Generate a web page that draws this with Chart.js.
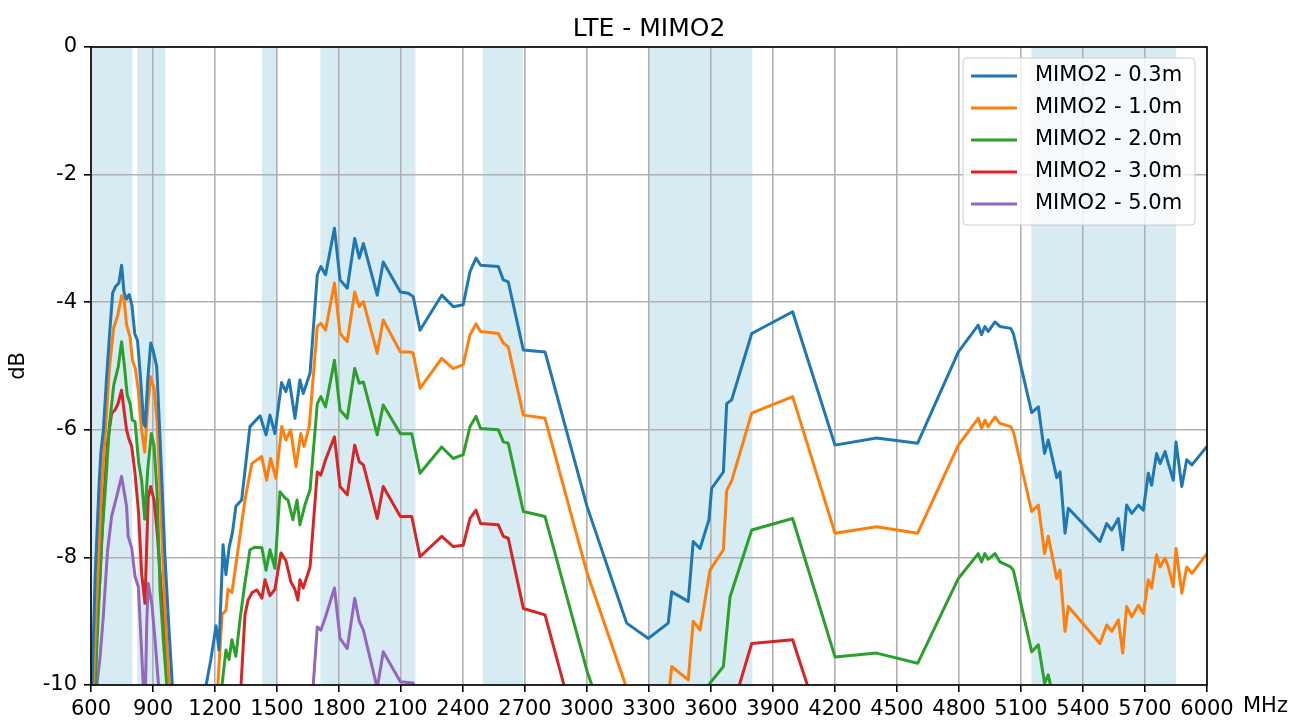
<!DOCTYPE html>
<html>
<head>
<meta charset="utf-8">
<title>LTE - MIMO2</title>
<script src="https://cdn.jsdelivr.net/npm/chart.js@4.4.1/dist/chart.umd.min.js"></script>
<style>
  html, body { margin: 0; padding: 0; background: #ffffff; }
  canvas { display: block; }
</style>
</head>
<body>
<canvas id="grafico" width="1305" height="722"></canvas>
<script>
// faixas LTE (MHz) pintadas atrás das curvas
const BANDS = [[600, 800], [824, 960], [1427, 1500], [1710, 2170], [2496, 2690], [3300, 3800], [5150, 5850]];

const FREQ_TICKS = [600, 900, 1200, 1500, 1800, 2100, 2400, 2700, 3000, 3300, 3600, 3900, 4200, 4500, 4800, 5100, 5400, 5700, 6000];
const DB_TICKS = [-10, -8, -6, -4, -2, 0];

const LABELS = ['MIMO2 - 0.3m', 'MIMO2 - 1.0m', 'MIMO2 - 2.0m', 'MIMO2 - 3.0m', 'MIMO2 - 5.0m'];
const COLORS = ['#1f77b4', '#ff7f0e', '#2ca02c', '#d62728', '#9467bd'];

// [MHz, dB] por distância
const MIMO2_03 = [[600,-10.6],[620,-8.3],[640,-6.8],[648,-6.35],[660,-6.0],[675,-5.2],[690,-4.5],[705,-3.85],[720,-3.75],[735,-3.7],[748,-3.42],[760,-3.85],[772,-3.95],[785,-3.88],[798,-4.05],[812,-4.5],[825,-4.6],[840,-5.2],[855,-5.9],[862,-5.95],[875,-5.2],[889,-4.64],[900,-4.75],[918,-5.01],[935,-6.2],[958,-7.99],[975,-9.0],[993,-9.97],[1010,-10.8],[1140,-10.8],[1157,-10.0],[1180,-9.6],[1205,-9.07],[1219,-9.45],[1239,-7.8],[1253,-8.27],[1268,-7.85],[1285,-7.6],[1301,-7.2],[1329,-7.1],[1369,-5.95],[1418,-5.78],[1447,-6.08],[1466,-5.77],[1490,-6.06],[1522,-5.26],[1543,-5.4],[1559,-5.22],[1587,-5.82],[1611,-5.22],[1627,-5.43],[1660,-5.11],[1695,-3.57],[1712,-3.44],[1735,-3.57],[1778,-2.84],[1805,-3.65],[1840,-3.78],[1876,-3.0],[1898,-3.31],[1918,-3.08],[1985,-3.89],[2014,-3.37],[2097,-3.84],[2135,-3.86],[2159,-3.91],[2192,-4.44],[2297,-3.89],[2353,-4.07],[2401,-4.04],[2434,-3.52],[2463,-3.31],[2485,-3.42],[2571,-3.44],[2595,-3.65],[2619,-3.68],[2692,-4.75],[2797,-4.78],[3000,-7.2],[3192,-9.03],[3297,-9.27],[3393,-9.03],[3410,-8.54],[3490,-8.69],[3514,-7.75],[3547,-7.86],[3590,-7.41],[3603,-6.92],[3660,-6.66],[3676,-5.59],[3700,-5.53],[3797,-4.49],[3995,-4.15],[4200,-6.24],[4401,-6.13],[4600,-6.21],[4797,-4.78],[4893,-4.36],[4909,-4.51],[4925,-4.38],[4941,-4.46],[4974,-4.31],[4998,-4.38],[5050,-4.41],[5063,-4.49],[5152,-5.73],[5184,-5.64],[5214,-6.37],[5232,-6.16],[5273,-6.75],[5289,-6.66],[5313,-7.62],[5329,-7.23],[5482,-7.75],[5515,-7.47],[5539,-7.57],[5571,-7.39],[5592,-7.88],[5611,-7.18],[5636,-7.31],[5668,-7.18],[5692,-7.26],[5716,-6.68],[5732,-6.87],[5756,-6.37],[5773,-6.53],[5797,-6.34],[5813,-6.53],[5837,-6.79],[5850,-6.19],[5878,-6.89],[5902,-6.47],[5927,-6.55],[6000,-6.26]];

const MIMO2_10 = [[600,-11.0],[625,-8.8],[650,-7.0],[670,-6.0],[690,-5.0],[710,-4.4],[730,-4.2],[748,-3.9],[760,-3.95],[772,-4.35],[789,-4.55],[800,-4.9],[815,-5.05],[830,-5.4],[845,-6.0],[860,-6.35],[875,-5.6],[889,-5.17],[905,-5.35],[920,-5.9],[935,-7.0],[955,-8.6],[975,-9.8],[1000,-10.8],[1190,-10.8],[1214,-10.0],[1234,-8.9],[1253,-8.83],[1263,-8.5],[1282,-8.55],[1301,-8.12],[1345,-7.1],[1378,-6.53],[1426,-6.42],[1450,-6.79],[1469,-6.45],[1495,-6.76],[1523,-5.95],[1543,-6.16],[1566,-6.0],[1592,-6.58],[1615,-6.06],[1631,-6.26],[1656,-5.95],[1695,-4.38],[1712,-4.33],[1735,-4.44],[1778,-3.70],[1805,-4.49],[1840,-4.62],[1876,-3.84],[1898,-4.07],[1918,-3.99],[1985,-4.8],[2014,-4.28],[2097,-4.78],[2143,-4.78],[2159,-4.8],[2192,-5.35],[2297,-4.88],[2353,-5.04],[2401,-4.98],[2434,-4.51],[2463,-4.34],[2485,-4.46],[2571,-4.49],[2595,-4.64],[2619,-4.70],[2692,-5.77],[2797,-5.82],[3000,-8.24],[3192,-10.05],[3297,-10.5],[3393,-10.2],[3410,-9.71],[3490,-9.92],[3514,-9.0],[3547,-9.14],[3595,-8.2],[3660,-7.88],[3676,-6.95],[3700,-6.8],[3797,-5.74],[3995,-5.48],[4200,-7.62],[4401,-7.52],[4600,-7.62],[4797,-6.24],[4893,-5.82],[4909,-5.98],[4925,-5.85],[4941,-5.95],[4974,-5.80],[4998,-5.9],[5050,-5.95],[5063,-6.03],[5152,-7.28],[5184,-7.18],[5214,-7.94],[5232,-7.67],[5273,-8.33],[5289,-8.2],[5313,-9.16],[5329,-8.77],[5482,-9.35],[5515,-9.06],[5539,-9.16],[5571,-8.98],[5592,-9.5],[5611,-8.77],[5636,-8.93],[5668,-8.75],[5692,-8.88],[5716,-8.35],[5732,-8.48],[5756,-7.96],[5773,-8.15],[5797,-8.01],[5813,-8.15],[5837,-8.46],[5850,-7.86],[5878,-8.56],[5902,-8.15],[5927,-8.25],[6000,-7.94]];

const MIMO2_20 = [[600,-11.5],[630,-9.3],[650,-7.8],[670,-6.9],[690,-5.9],[710,-5.3],[732,-5.01],[748,-4.62],[760,-4.95],[775,-5.45],[790,-5.6],[800,-5.85],[813,-5.87],[830,-6.5],[845,-6.79],[860,-7.4],[875,-6.6],[892,-6.06],[905,-6.25],[920,-7.0],[934,-8.51],[950,-9.3],[966,-9.97],[990,-11],[1210,-11],[1234,-10.0],[1253,-9.45],[1268,-9.6],[1282,-9.29],[1301,-9.55],[1321,-8.98],[1340,-8.51],[1369,-7.88],[1394,-7.84],[1427,-7.85],[1447,-8.2],[1466,-7.88],[1490,-8.17],[1514,-6.97],[1539,-7.07],[1553,-7.1],[1577,-7.41],[1597,-7.1],[1611,-7.49],[1635,-7.18],[1660,-6.94],[1695,-5.59],[1712,-5.48],[1735,-5.64],[1778,-4.91],[1805,-5.69],[1840,-5.82],[1876,-5.04],[1898,-5.27],[1918,-5.25],[1985,-6.08],[2014,-5.61],[2097,-6.06],[2152,-6.06],[2192,-6.68],[2297,-6.27],[2353,-6.45],[2401,-6.39],[2434,-5.95],[2463,-5.79],[2485,-5.98],[2571,-6.0],[2595,-6.19],[2619,-6.21],[2692,-7.28],[2797,-7.36],[3000,-9.78],[3192,-11.6],[3400,-11.6],[3550,-10.4],[3595,-9.97],[3660,-9.71],[3692,-8.62],[3797,-7.57],[3995,-7.39],[4200,-9.56],[4401,-9.5],[4600,-9.66],[4797,-8.33],[4893,-7.94],[4909,-8.07],[4925,-7.94],[4941,-8.03],[4974,-7.94],[4998,-8.07],[5050,-8.15],[5063,-8.2],[5152,-9.48],[5184,-9.37],[5214,-9.97],[5232,-9.84],[5273,-10.45],[5320,-11]];

const MIMO2_30 = [[600,-11.5],[615,-10.0],[630,-9.0],[644,-8.3],[660,-7.2],[680,-6.2],[700,-5.74],[716,-5.69],[730,-5.6],[748,-5.38],[760,-5.7],[772,-6.0],[785,-6.16],[797,-6.26],[813,-6.68],[830,-7.3],[845,-8.25],[861,-8.72],[877,-7.05],[889,-6.89],[905,-7.1],[920,-7.6],[942,-8.6],[960,-9.4],[980,-10.1],[1000,-11],[1300,-11.2],[1326,-10.0],[1345,-8.9],[1360,-8.67],[1380,-8.55],[1403,-8.51],[1427,-8.64],[1442,-8.35],[1466,-8.6],[1490,-8.5],[1519,-7.93],[1543,-8.05],[1568,-8.39],[1587,-8.5],[1601,-8.67],[1611,-8.35],[1627,-8.48],[1660,-8.15],[1695,-6.66],[1712,-6.71],[1735,-6.47],[1778,-6.11],[1805,-6.89],[1840,-7.02],[1876,-6.24],[1898,-6.5],[1918,-6.55],[1985,-7.39],[2014,-6.89],[2097,-7.36],[2152,-7.36],[2192,-7.99],[2297,-7.67],[2353,-7.83],[2401,-7.81],[2434,-7.39],[2463,-7.26],[2485,-7.47],[2571,-7.49],[2595,-7.67],[2619,-7.70],[2692,-8.80],[2797,-8.90],[2886,-9.97],[3000,-11.2],[3700,-10.6],[3740,-9.97],[3797,-9.35],[3995,-9.29],[4063,-9.97],[4200,-11.3]];

const MIMO2_50 = [[600,-10.5],[612,-9.7],[625,-10.1],[644,-9.56],[660,-8.9],[680,-7.9],[700,-7.35],[724,-7.05],[748,-6.73],[772,-7.2],[780,-7.67],[797,-7.85],[813,-8.3],[829,-8.46],[853,-10.0],[862,-10.3],[870,-9.0],[877,-8.41],[895,-8.75],[910,-9.3],[926,-9.97],[940,-10.8],[1650,-10.8],[1676,-9.97],[1695,-9.09],[1712,-9.14],[1735,-8.93],[1778,-8.48],[1805,-9.27],[1840,-9.43],[1876,-8.64],[1898,-9.0],[1918,-9.14],[1985,-10.05],[2014,-9.48],[2097,-9.95],[2159,-9.97],[2192,-10.6]];

const SERIES = [MIMO2_03, MIMO2_10, MIMO2_20, MIMO2_30, MIMO2_50];

Chart.defaults.font.family = '"DejaVu Sans", sans-serif';
Chart.defaults.color = '#000000';

// faixas, moldura, título e legenda desenhados à mão
const decoracao = {
    id: 'decoracao',
    beforeDraw(chart) {
        const ctx = chart.ctx, a = chart.chartArea, x = chart.scales.x;
        ctx.save();
        ctx.fillStyle = 'rgba(173, 216, 230, 0.5)';
        BANDS.forEach(function (b) {
            const x0 = Math.max(x.getPixelForValue(b[0]), a.left);
            const x1 = Math.min(x.getPixelForValue(b[1]), a.right);
            ctx.fillRect(x0, a.top, x1 - x0, a.bottom - a.top);
        });
        ctx.restore();
    },
    afterDraw(chart) {
        const ctx = chart.ctx, a = chart.chartArea;
        ctx.save();

        // moldura
        ctx.strokeStyle = '#000000';
        ctx.lineWidth = 1.6;
        ctx.strokeRect(a.left, a.top, a.right - a.left, a.bottom - a.top);

        // título
        ctx.fillStyle = '#000000';
        ctx.font = '25px "DejaVu Sans"';
        ctx.textAlign = 'center';
        ctx.textBaseline = 'alphabetic';
        ctx.fillText('LTE - MIMO2', (a.left + a.right) / 2, 36);

        // unidade do eixo x
        ctx.font = '21px "DejaVu Sans"';
        ctx.textAlign = 'left';
        ctx.textBaseline = 'middle';
        ctx.fillText('MHz', a.right + 36, 707);

        // legenda
        const lx = a.right - 244, ly = a.top + 11, lw = 232, lh = 167;
        ctx.beginPath();
        ctx.roundRect(lx, ly, lw, lh, 4);
        ctx.fillStyle = 'rgba(255, 255, 255, 0.8)';
        ctx.fill();
        ctx.strokeStyle = '#cccccc';
        ctx.lineWidth = 1;
        ctx.stroke();
        chart.data.datasets.forEach(function (ds, i) {
            const yy = ly + 18 + i * 32;
            ctx.strokeStyle = ds.borderColor;
            ctx.lineWidth = 3;
            ctx.beginPath();
            ctx.moveTo(lx + 8, yy);
            ctx.lineTo(lx + 54, yy);
            ctx.stroke();
            ctx.fillStyle = '#000000';
            ctx.fillText(ds.label, lx + 72, yy);
        });
        ctx.restore();
    }
};

var ctx = document.getElementById('grafico');

var grafico = new Chart(ctx, {
    type: 'line',
    data: {
        datasets: SERIES.map(function (serie, i) {
            return {
                label: LABELS[i],
                data: serie.map(function (p) { return { x: p[0], y: p[1] }; }),
                borderColor: COLORS[i],
                backgroundColor: COLORS[i],
                borderWidth: 3,
                borderJoinStyle: 'round',
                pointRadius: 0,
                tension: 0,
                fill: false
            };
        })
    },
    options: {
        responsive: false,
        animation: false,
        layout: { padding: { top: 47, right: 98, left: 0, bottom: 0 } },
        plugins: {
            legend: { display: false },
            title: { display: false },
            tooltip: { enabled: false }
        },
        scales: {
            x: {
                type: 'linear',
                min: 600,
                max: 6000,
                afterBuildTicks: function (s) { s.ticks = FREQ_TICKS.map(function (v) { return { value: v }; }); },
                afterFit: function (s) { s.height = 37; },
                ticks: {
                    font: { size: 21 }, padding: 5, maxRotation: 0, autoSkip: false,
                    callback: function (v) { return String(v); }
                },
                grid: { color: '#b0b0b0', lineWidth: 1.6, tickColor: '#000000', tickLength: 7 },
                border: { display: false }
            },
            y: {
                min: -10,
                max: 0,
                afterBuildTicks: function (s) { s.ticks = DB_TICKS.map(function (v) { return { value: v }; }); },
                afterFit: function (s) { s.width = 91; },
                ticks: { font: { size: 21 }, padding: 7, callback: function (v) { return String(v); } },
                grid: { color: '#b0b0b0', lineWidth: 1.6, tickColor: '#000000', tickLength: 7 },
                border: { display: false },
                title: { display: true, text: 'dB', font: { size: 21 }, padding: { top: 6, bottom: 0 } }
            }
        }
    },
    plugins: [decoracao]
});
</script>
</body>
</html>
